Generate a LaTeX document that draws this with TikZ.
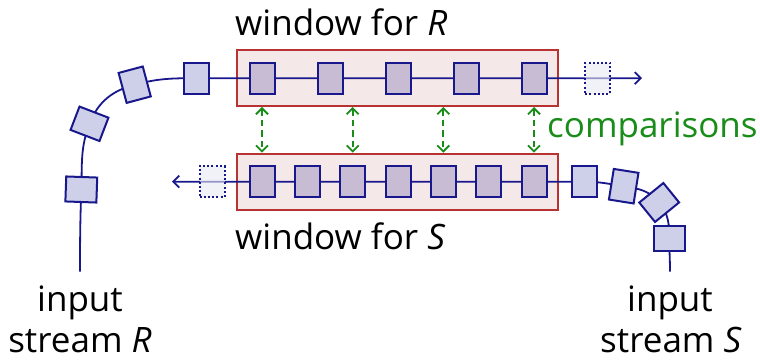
\documentclass[tikz,border=0pt]{standalone}
\usepackage{fontspec}
\setmainfont{Open Sans}
\usetikzlibrary{arrows.meta}

\definecolor{navy}{RGB}{24,24,140}
\definecolor{itemfill}{RGB}{205,208,232}
\definecolor{winfill}{RGB}{200,188,212}
\definecolor{ghostfill}{RGB}{232,232,244}
\definecolor{winbg}{RGB}{245,232,232}
\definecolor{winborder}{RGB}{184,50,50}
\definecolor{cmpgreen}{RGB}{26,140,26}

\begin{document}
\begin{tikzpicture}[x=1pt,y=1pt,
  stream/.style={draw=navy,line width=1.8pt},
  item/.style={rectangle,draw=navy,line width=2pt,fill=itemfill,
    minimum width=25pt,minimum height=31pt,inner sep=0pt},
  winitem/.style={item,fill=winfill},
  ghost/.style={item,fill=ghostfill,fill opacity=0.6,dash pattern=on 2pt off 2.2pt},
  window/.style={rectangle,draw=winborder,fill=winbg,line width=2pt,
    minimum width=321pt,minimum height=56pt,inner sep=0pt},
  cmp/.style={draw=cmpgreen,line width=1.8pt,dash pattern=on 6.5pt off 4pt,
    {Straight Barb[length=6pt,width=12pt]}-{Straight Barb[length=6pt,width=12pt]}},
  lbl/.style={font=\fontsize{35}{40}\selectfont,inner sep=0pt,text depth=0pt},
  tip/.style={-{Straight Barb[length=6pt,width=12pt]}}
]
\useasboundingbox (0,0) rectangle (760,361);

% the two windows
\node[window] (boxR) at (397.5,283) {};
\node[window] (boxS) at (397.5,179.3) {};

% stream R: points along its path
\coordinate (r0) at (80,89.3);
\coordinate (pA) at (81.3,171.5);
\coordinate (pB) at (89.5,237.2);
\coordinate (pC) at (134.7,276.3);
\coordinate (pD) at (196,282.8);
\coordinate (rEnd) at (642,282.8);

% stream S: points along its path
\coordinate (s0) at (670,89.3);
\coordinate (pH) at (669.3,122.2);
\coordinate (pG) at (659.2,158.5);
\coordinate (pF) at (623.7,174.8);
\coordinate (pE) at (584,179.3);
\coordinate (sEnd) at (172,179.3);

\draw[stream,tip] (r0) to[out=90,in=268] (pA) to[out=88,in=249] (pB)
  to[out=69,in=195] (pC) to[out=15,in=180] (pD) -- (rEnd);
\draw[stream,tip] (s0) to[out=90,in=270] (pH) to[out=90,in=-51] (pG)
  to[out=129,in=-9] (pF) to[out=171,in=0] (pE) -- (sEnd);

% tuples arriving on stream R
\node[item,rotate=88] (A) at (pA) {};
\node[item,rotate=69] (B) at (pB) {};
\node[item,rotate=15] (C) at (pC) {};
\node[item] (D) at (pD) {};

% tuples arriving on stream S
\node[item,rotate=90] (H) at (pH) {};
\node[item,rotate=-51] (G) at (pG) {};
\node[item,rotate=-9] (F) at (pF) {};
\node[item] (E) at (pE) {};

% tuples held in the windows
\foreach \i/\x in {1/262,2/330,3/398,4/466,5/534}
  \node[winitem] (t\i) at (\x,282.8) {};
\foreach \i/\x in {1/262,2/307.3,3/352.7,4/398,5/443.3,6/488.7,7/534}
  \node[winitem] (b\i) at (\x,179.3) {};

% expired tuples
\node[ghost] (xR) at (597.7,282.8) {};
\node[ghost] (xS) at (212,179.3) {};

% comparisons between the windows
\foreach \i in {1,3,5,7}
  \draw[cmp] (boxR.south -| b\i) -- (boxS.north -| b\i);

% labels
\node[lbl,anchor=base west] (wR) at (235,325.3) {window for \textit{R}};
\node[lbl,anchor=base west] (wS) at (235,111) {window for \textit{S}};
\node[lbl,anchor=base west,text=cmpgreen] (cmpl) at (547,223.3) {comparisons};
\node[lbl,anchor=base] (inR1) at (80,49.3) {input};
\node[lbl,anchor=base] (inR2) at (80,8) {stream \textit{R}};
\node[lbl,anchor=base] (inS1) at (670,49.3) {input};
\node[lbl,anchor=base] (inS2) at (671,8) {stream \textit{S}};
\end{tikzpicture}
\end{document}
